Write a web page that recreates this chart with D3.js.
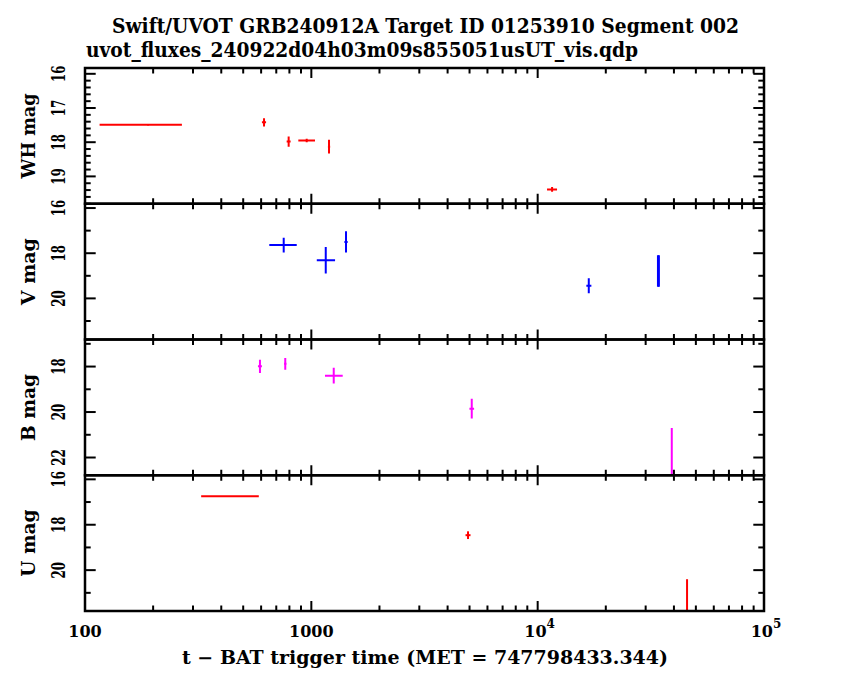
<!DOCTYPE html>
<html>
<head>
<meta charset="utf-8">
<script src="https://cdn.jsdelivr.net/npm/d3@7/dist/d3.min.js"></script>
<style>
  html, body { margin: 0; padding: 0; background: #ffffff; }
  svg { display: block; }
  text { font-family: "DejaVu Serif", serif; font-weight: bold; fill: #000000; }
</style>
</head>
<body>
<div id="chart"></div>
<script>
// UVOT light curve, one panel per filter. Times are seconds since BAT trigger.
const whTime   = [190, 618, 794, 954, 1197, 11580];
const whTimeLo = [116, 605, 778, 876, 1184, 11000];
const whTimeHi = [268, 631, 810, 1038, 1211, 12180];
const whMag    = [17.49, 17.42, 17.98, 17.95, 18.13, 19.38];
const whMagErr = [0.02, 0.12, 0.15, 0.05, 0.20, 0.07];

const vTime   = [755, 1158, 1423, 16820, 34000, 34330];
const vTimeLo = [652, 1057, 1400, 16410, 34000, 34330];
const vTimeHi = [862, 1273, 1447, 17270, 34000, 34330];
const vMag    = [17.64, 18.31, 17.50, 19.44, 18.79, 18.79];
const vMagErr = [0.33, 0.59, 0.47, 0.33, 0.70, 0.70];

const bTime   = [593, 767, 1256, 5114, 39130];
const bTimeLo = [581, 758, 1149, 4994, 39130];
const bTimeHi = [605, 776, 1376, 5237, 39130];
const bMag    = [17.99, 17.88, 18.40, 19.85, 23.5];
const bMagErr = [0.29, 0.26, 0.35, 0.43, 2.8];

const uTime   = [455, 4924, 45710];
const uTimeLo = [326, 4800, 45710];
const uTimeHi = [586, 5050, 45710];
const uMag    = [16.75, 18.46, 23.2];
const uMagErr = [0.02, 0.17, 2.8];

const panelNames  = ['WH mag', 'V mag', 'B mag', 'U mag'];
const panelColors = ['#ff0000', '#0000ff', '#ff00ff', '#ff0000'];
const magTop      = [15.83, 15.81, 16.81, 15.82];
const magBottom   = [19.80, 21.82, 22.78, 21.80];
const majorStep   = [1, 2, 2, 2];
const minorStep   = [0.2, 1, 1, 1];

const xDomain = [100, 1e5];
const xTickValues = [100, 1000, 1e4, 1e5];
const xTickBase = ['100', '1000', '10', '10'];
const xTickExp  = ['', '', '4', '5'];

const titleLine1 = 'Swift/UVOT GRB240912A Target ID 01253910 Segment 002';
const titleLine2 = 'uvot_fluxes_240922d04h03m09s855051usUT_vis.qdp';
const xTitle = 't \u2212 BAT trigger time (MET = 747798433.344)';

function rows(t, lo, hi, m, e) {
    return t.map((d, i) => ({ t: d, lo: lo[i], hi: hi[i], mag: m[i], err: e[i] }));
}
const panelData = [
    rows(whTime, whTimeLo, whTimeHi, whMag, whMagErr),
    rows(vTime, vTimeLo, vTimeHi, vMag, vMagErr),
    rows(bTime, bTimeLo, bTimeHi, bMag, bMagErr),
    rows(uTime, uTimeLo, uTimeHi, uMag, uMagErr)
];

const width = 850;
const height = 680;
const plotLeft = 85;
const plotRight = 764;
const plotTop = 68;
const plotBottom = 611;
const panelH = (plotBottom - plotTop) / 4;

const svg = d3.select('#chart').append('svg')
    .attr('width', width)
    .attr('height', height);

const x = d3.scaleLog().domain(xDomain).range([plotLeft, plotRight]);
const xAll = x.ticks();
const isMajorX = (v) => Math.abs(Math.log10(v) - Math.round(Math.log10(v))) < 1e-9;

const defs = svg.append('defs');

panelData.forEach((data, p) => {
    const top = plotTop + p * panelH;
    const bottom = top + panelH;
    const y = d3.scaleLinear().domain([magTop[p], magBottom[p]]).range([top, bottom]);
    const g = svg.append('g').attr('class', 'panel');

    defs.append('clipPath').attr('id', 'clip' + p)
        .append('rect')
        .attr('x', plotLeft).attr('y', top)
        .attr('width', plotRight - plotLeft).attr('height', panelH);

    // error bars
    const marks = g.append('g').attr('clip-path', `url(#clip${p})`);
    data.forEach((d) => {
        marks.append('line')
            .attr('x1', x(d.lo)).attr('x2', x(d.hi))
            .attr('y1', y(d.mag)).attr('y2', y(d.mag))
            .attr('stroke', panelColors[p]).attr('stroke-width', 2);
        marks.append('line')
            .attr('x1', x(d.t)).attr('x2', x(d.t))
            .attr('y1', y(d.mag - d.err)).attr('y2', y(d.mag + d.err))
            .attr('stroke', panelColors[p]).attr('stroke-width', 2);
    });

    // x ticks on top and bottom edges, pointing inward
    xAll.forEach((v) => {
        const len = isMajorX(v) ? 10 : 5.5;
        const px = x(v);
        g.append('line').attr('x1', px).attr('x2', px).attr('y1', top).attr('y2', top + len)
            .attr('stroke', '#000').attr('stroke-width', 2);
        g.append('line').attr('x1', px).attr('x2', px).attr('y1', bottom).attr('y2', bottom - len)
            .attr('stroke', '#000').attr('stroke-width', 2);
    });

    // y ticks on left and right edges
    const lo = Math.min(magTop[p], magBottom[p]);
    const hi = Math.max(magTop[p], magBottom[p]);
    const minors = d3.range(Math.ceil(lo / minorStep[p] - 1e-6), Math.floor(hi / minorStep[p] + 1e-6) + 1)
        .map((k) => +(k * minorStep[p]).toFixed(4));
    minors.forEach((v) => {
        const major = Math.abs(v / majorStep[p] - Math.round(v / majorStep[p])) < 1e-6;
        const len = major ? 10.7 : 5.7;
        const py = y(v);
        g.append('line').attr('x1', plotLeft).attr('x2', plotLeft + len).attr('y1', py).attr('y2', py)
            .attr('stroke', '#000').attr('stroke-width', 2);
        g.append('line').attr('x1', plotRight).attr('x2', plotRight - len).attr('y1', py).attr('y2', py)
            .attr('stroke', '#000').attr('stroke-width', 2);
        if (major) {
            g.append('text')
                .attr('transform', `translate(65,${py}) rotate(-90)`)
                .attr('text-anchor', 'middle')
                .attr('font-size', 18)
                .attr('textLength', 16.5)
                .attr('lengthAdjust', 'spacingAndGlyphs')
                .text(String(v));
        }
    });

    // frame
    g.append('rect')
        .attr('x', plotLeft).attr('y', top)
        .attr('width', plotRight - plotLeft).attr('height', panelH)
        .attr('fill', 'none').attr('stroke', '#000').attr('stroke-width', 2.5);

    // panel label
    g.append('text')
        .attr('transform', `translate(35,${(top + bottom) / 2}) rotate(-90)`)
        .attr('text-anchor', 'middle')
        .attr('font-size', 18)
        .attr('textLength', p === 0 ? 85 : 67)
        .attr('lengthAdjust', 'spacingAndGlyphs')
        .text(panelNames[p]);
});

// x tick labels
xTickValues.forEach((v, i) => {
    const t = svg.append('text')
        .attr('x', x(v) + (xTickExp[i] ? 2 : 0))
        .attr('y', 636.7)
        .attr('text-anchor', 'middle')
        .attr('font-size', 16)
        .text(xTickBase[i]);
    if (xTickExp[i]) {
        t.append('tspan')
            .attr('font-size', 12)
            .attr('dy', -9)
            .text(xTickExp[i]);
    }
});

// titles
svg.append('text')
    .attr('x', 112).attr('y', 33)
    .attr('font-size', 20)
    .attr('textLength', 627)
    .attr('lengthAdjust', 'spacingAndGlyphs')
    .text(titleLine1);
svg.append('text')
    .attr('x', 86).attr('y', 57)
    .attr('font-size', 20)
    .attr('textLength', 552)
    .attr('lengthAdjust', 'spacingAndGlyphs')
    .text(titleLine2);
svg.append('text')
    .attr('x', 182).attr('y', 664)
    .attr('font-size', 18)
    .attr('textLength', 486)
    .attr('lengthAdjust', 'spacingAndGlyphs')
    .text(xTitle);
</script>
</body>
</html>
